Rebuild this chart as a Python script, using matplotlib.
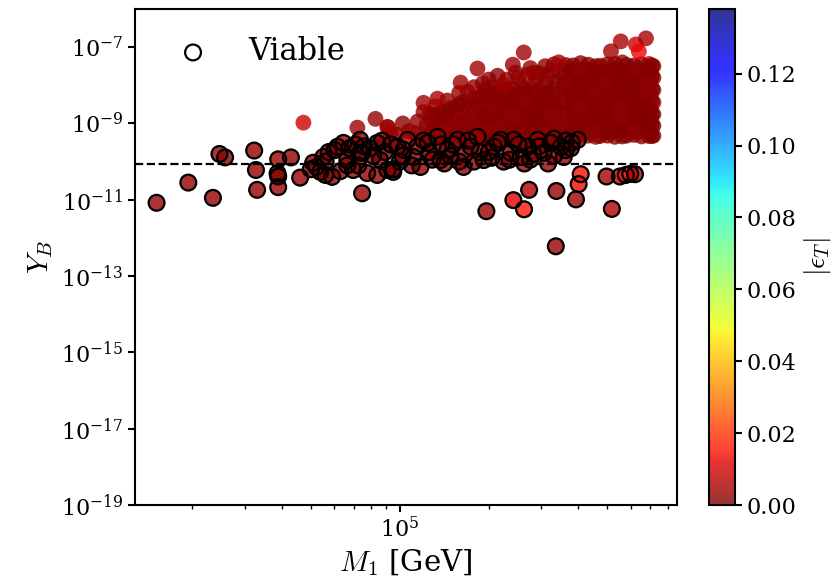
import matplotlib.pyplot as plt
import numpy as np
from matplotlib.ticker import NullLocator

plt.rcParams['font.family'] = 'DejaVu Serif'
plt.rcParams['mathtext.fontset'] = 'cm'

# values: log10(M1/GeV), log10(Y_B), |eps_T|
# non-viable points, dense right part of the cloud
cloud_log_m1 = np.array([
    5.56, 5.61, 5.66, 5.70, 5.75, 5.79, 5.84, 5.855,
    5.55, 5.60, 5.64, 5.69, 5.74, 5.78, 5.83, 5.855,
    5.56, 5.61, 5.65, 5.70, 5.74, 5.79, 5.83, 5.855,
    5.55, 5.60, 5.65, 5.69, 5.74, 5.78, 5.82, 5.855,
    5.56, 5.61, 5.65, 5.70, 5.75, 5.79, 5.83, 5.855,
    5.55, 5.60, 5.64, 5.69, 5.74, 5.78, 5.83, 5.855,
    5.56, 5.61, 5.66, 5.70, 5.75, 5.79, 5.84, 5.855,
    5.58, 5.63, 5.68, 5.72, 5.77, 5.81, 5.845,
    5.58, 5.63, 5.68, 5.72, 5.77, 5.81, 5.845,
    5.58, 5.63, 5.68, 5.72, 5.77, 5.81, 5.845,
    5.58, 5.63, 5.68, 5.72, 5.77, 5.81, 5.845,
    5.58, 5.63, 5.68, 5.72, 5.77, 5.81, 5.845,
    5.58, 5.63, 5.68, 5.72, 5.77, 5.81, 5.845,
    5.585, 5.635, 5.675, 5.725, 5.765, 5.815, 5.85,
    5.585, 5.635, 5.675, 5.725, 5.765, 5.815, 5.85,
    5.585, 5.635, 5.675, 5.725, 5.765, 5.815, 5.85,
    5.585, 5.635, 5.675, 5.725, 5.765, 5.815, 5.85,
    5.585, 5.635, 5.675, 5.725, 5.765, 5.815, 5.85,
    5.585, 5.635, 5.675, 5.725, 5.765, 5.815, 5.85,
    5.585, 5.635, 5.675, 5.725, 5.765, 5.815, 5.85,
    5.555, 5.605, 5.655, 5.700, 5.745, 5.790, 5.835,
    5.555, 5.605, 5.655, 5.700, 5.745, 5.790, 5.835,
    5.555, 5.605, 5.655, 5.700, 5.745, 5.790, 5.835,
    5.555, 5.605, 5.655, 5.700, 5.745, 5.790, 5.835,
    5.555, 5.605, 5.655, 5.700, 5.745, 5.790, 5.835,
    5.555, 5.605, 5.655, 5.700, 5.745, 5.790, 5.835,
])
cloud_log_yb = np.array([
    -7.47, -7.42, -7.50, -7.45, -7.40, -7.48, -7.44, -7.50,
    -7.78, -7.80, -7.75, -7.82, -7.77, -7.79, -7.76, -7.80,
    -8.10, -8.12, -8.08, -8.11, -8.13, -8.09, -8.10, -8.12,
    -8.43, -8.40, -8.45, -8.42, -8.44, -8.41, -8.43, -8.45,
    -8.75, -8.77, -8.73, -8.76, -8.74, -8.78, -8.75, -8.76,
    -9.05, -9.07, -9.03, -9.06, -9.04, -9.08, -9.05, -9.06,
    -9.33, -9.31, -9.35, -9.32, -9.34, -9.30, -9.33, -9.32,
    -7.62, -7.60, -7.64, -7.61, -7.63, -7.60, -7.62,
    -7.94, -7.96, -7.92, -7.95, -7.93, -7.97, -7.94,
    -8.27, -8.25, -8.28, -8.26, -8.29, -8.27, -8.25,
    -8.59, -8.61, -8.58, -8.60, -8.57, -8.59, -8.61,
    -8.90, -8.88, -8.92, -8.89, -8.91, -8.90, -8.88,
    -9.20, -9.22, -9.19, -9.21, -9.18, -9.20, -9.22,
    -7.48, -7.46, -7.49, -7.44, -7.47, -7.45, -7.48,
    -7.79, -7.77, -7.80, -7.78, -7.81, -7.79, -7.77,
    -8.11, -8.09, -8.12, -8.10, -8.08, -8.11, -8.10,
    -8.42, -8.44, -8.41, -8.43, -8.42, -8.44, -8.41,
    -8.74, -8.76, -8.75, -8.73, -8.76, -8.74, -8.75,
    -9.06, -9.04, -9.05, -9.07, -9.05, -9.06, -9.04,
    -9.34, -9.32, -9.33, -9.35, -9.32, -9.34, -9.33,
    -7.63, -7.61, -7.62, -7.64, -7.60, -7.62, -7.63,
    -7.95, -7.93, -7.96, -7.94, -7.95, -7.93, -7.96,
    -8.26, -8.28, -8.27, -8.25, -8.27, -8.28, -8.26,
    -8.60, -8.58, -8.59, -8.61, -8.60, -8.58, -8.59,
    -8.91, -8.89, -8.90, -8.92, -8.89, -8.91, -8.90,
    -9.21, -9.19, -9.20, -9.22, -9.19, -9.21, -9.20,
])
cloud_eps = np.array([
    0.003, 0.002, 0.004, 0.002, 0.003, 0.001, 0.012, 0.003,
    0.002, 0.003, 0.001, 0.002, 0.004, 0.002, 0.003, 0.002,
    0.001, 0.002, 0.003, 0.002, 0.016, 0.001, 0.002, 0.003,
    0.002, 0.001, 0.003, 0.002, 0.001, 0.002, 0.001, 0.004,
    0.003, 0.002, 0.001, 0.002, 0.003, 0.002, 0.001, 0.002,
    0.002, 0.014, 0.002, 0.001, 0.003, 0.002, 0.002, 0.001,
    0.001, 0.002, 0.003, 0.002, 0.001, 0.002, 0.003, 0.002,
    0.001, 0.002, 0.001, 0.001, 0.002, 0.001, 0.002,
    0.002, 0.001, 0.001, 0.002, 0.001, 0.001, 0.002,
    0.001, 0.001, 0.002, 0.001, 0.001, 0.002, 0.001,
    0.001, 0.002, 0.001, 0.001, 0.002, 0.001, 0.001,
    0.002, 0.001, 0.001, 0.002, 0.001, 0.001, 0.002,
    0.001, 0.001, 0.002, 0.001, 0.002, 0.001, 0.001,
    0.001, 0.001, 0.002, 0.001, 0.001, 0.002, 0.001,
    0.001, 0.002, 0.001, 0.001, 0.001, 0.002, 0.001,
    0.002, 0.001, 0.001, 0.001, 0.002, 0.001, 0.001,
    0.001, 0.001, 0.002, 0.001, 0.001, 0.001, 0.002,
    0.001, 0.002, 0.001, 0.001, 0.002, 0.001, 0.001,
    0.002, 0.001, 0.001, 0.002, 0.001, 0.001, 0.001,
    0.001, 0.001, 0.002, 0.001, 0.001, 0.002, 0.001,
    0.001, 0.002, 0.001, 0.001, 0.001, 0.002, 0.001,
    0.002, 0.001, 0.001, 0.002, 0.001, 0.001, 0.002,
    0.001, 0.001, 0.002, 0.001, 0.001, 0.001, 0.002,
    0.001, 0.002, 0.001, 0.001, 0.002, 0.001, 0.001,
    0.002, 0.001, 0.001, 0.001, 0.002, 0.001, 0.001,
    0.001, 0.001, 0.002, 0.001, 0.001, 0.002, 0.001,
])

# non-viable points, middle / left part of the cloud and stragglers
mid_log_m1 = np.array([
    5.47, 5.51, 5.49, 5.53,
    5.31, 5.36, 5.41, 5.45,
    5.30, 5.34, 5.39, 5.44, 5.48, 5.52,
    5.31, 5.36, 5.41, 5.46, 5.51,
    5.30, 5.34, 5.39, 5.44, 5.48, 5.52,
    5.32, 5.37, 5.42, 5.47, 5.51,
    5.32, 5.37, 5.42, 5.46, 5.50,
    5.32, 5.37, 5.42, 5.46, 5.50,
    5.32, 5.37, 5.42, 5.46, 5.50,
    5.32, 5.37, 5.42, 5.46, 5.50,
    5.325, 5.375, 5.415, 5.465, 5.505,
    5.325, 5.375, 5.415, 5.465, 5.505,
    5.325, 5.375, 5.415, 5.465, 5.505,
    5.300, 5.345, 5.395, 5.440, 5.485, 5.525,
    5.300, 5.345, 5.395, 5.440, 5.485, 5.525,
    5.300, 5.345, 5.395, 5.440, 5.485, 5.525,
    5.300, 5.345, 5.395, 5.440, 5.485, 5.525,
    5.290, 5.335, 5.380, 5.425, 5.470, 5.515,
    5.290, 5.335, 5.380, 5.425, 5.470, 5.515,
    5.290, 5.335, 5.380, 5.425, 5.470, 5.515,
    5.290, 5.335, 5.380, 5.425, 5.470, 5.515,
    5.290, 5.335, 5.380, 5.425, 5.470, 5.515,
    5.30, 5.33, 5.36, 5.40, 5.43, 5.46, 5.44, 5.49, 5.52, 5.50,
    5.25, 5.28, 5.20, 5.16, 5.12, 5.08,
    5.11, 5.11, 5.11, 5.15, 5.15, 5.15, 5.19, 5.19, 5.19,
    5.23, 5.23, 5.23, 5.23, 5.27, 5.27, 5.27, 5.27,
    5.13, 5.13, 5.17, 5.17, 5.21, 5.21, 5.21, 5.25, 5.25, 5.25, 5.29, 5.29,
    5.12, 5.14, 5.16, 5.18, 5.20, 5.22, 5.24, 5.26, 5.28, 5.28, 5.30, 5.30,
    5.11, 5.13, 5.15, 5.17, 5.19, 5.21, 5.23, 5.25, 5.27, 5.29, 5.29,
    5.03, 5.06, 5.08, 4.99, 4.96, 5.01, 5.05, 5.09, 4.97, 5.10,
    4.675, 4.857, 4.918, 4.958, 5.080, 5.127, 5.205, 5.229, 5.262,
    5.381, 5.418, 5.391, 5.350, 5.451, 5.536, 5.745, 5.796, 5.830,
    5.806, 5.712,
])
mid_log_yb = np.array([
    -7.68, -7.62, -7.95, -7.90,
    -8.05, -8.10, -8.02, -8.08,
    -8.40, -8.42, -8.38, -8.41, -8.36, -8.39,
    -8.75, -8.72, -8.77, -8.74, -8.73,
    -9.10, -9.08, -9.12, -9.09, -9.11, -9.07,
    -9.40, -9.38, -9.42, -9.39, -9.41,
    -8.22, -8.24, -8.21, -8.23, -8.20,
    -8.57, -8.55, -8.58, -8.56, -8.57,
    -8.92, -8.90, -8.93, -8.91, -8.92,
    -9.25, -9.23, -9.26, -9.24, -9.25,
    -8.41, -8.39, -8.42, -8.40, -8.38,
    -8.74, -8.76, -8.73, -8.75, -8.74,
    -9.09, -9.11, -9.08, -9.10, -9.09,
    -8.23, -8.21, -8.24, -8.22, -8.20, -8.23,
    -8.56, -8.58, -8.57, -8.55, -8.57, -8.56,
    -8.91, -8.93, -8.90, -8.92, -8.91, -8.93,
    -9.24, -9.26, -9.25, -9.23, -9.24, -9.26,
    -8.10, -8.12, -8.09, -8.11, -8.10, -8.08,
    -8.45, -8.44, -8.46, -8.45, -8.43, -8.46,
    -8.80, -8.82, -8.79, -8.81, -8.80, -8.78,
    -9.15, -9.14, -9.16, -9.15, -9.13, -9.16,
    -9.45, -9.44, -9.46, -9.45, -9.43, -9.46,
    -7.85, -7.75, -7.85, -7.80, -7.72, -7.85, -7.55, -7.50, -7.45, -7.75,
    -8.05, -7.95, -8.20, -8.40, -8.55, -8.70,
    -8.80, -9.15, -9.40, -8.70, -9.05, -9.35, -8.60, -8.95, -9.30,
    -8.45, -8.80, -9.15, -9.40, -8.30, -8.65, -9.00, -9.30,
    -8.97, -9.27, -8.85, -9.20, -8.70, -9.05, -9.35, -8.60, -8.95, -9.25, -8.20, -8.55,
    -8.95, -9.20, -8.80, -9.10, -8.50, -8.90, -9.30, -8.50, -8.85, -9.15, -8.30, -8.60,
    -9.00, -8.75, -9.35, -8.60, -9.20, -8.45, -9.00, -8.35, -9.15, -8.80, -9.40,
    -9.20, -8.95, -9.30, -9.30, -9.10, -9.00, -9.25, -9.05, -9.25, -8.75,
    -8.98, -9.11, -8.88, -9.09, -8.46, -8.35, -7.93, -8.17, -7.56,
    -7.46, -7.14, -7.67, -7.98, -7.67, -7.40, -6.85, -6.93, -6.77,
    -7.11, -7.11,
])
mid_eps = np.array([
    0.003, 0.002, 0.002, 0.001,
    0.003, 0.002, 0.001, 0.002,
    0.002, 0.001, 0.002, 0.003, 0.002, 0.001,
    0.001, 0.002, 0.001, 0.002, 0.002,
    0.002, 0.001, 0.002, 0.001, 0.002, 0.003,
    0.001, 0.002, 0.002, 0.001, 0.002,
    0.001, 0.002, 0.001, 0.001, 0.002,
    0.002, 0.001, 0.001, 0.002, 0.001,
    0.001, 0.001, 0.002, 0.001, 0.001,
    0.001, 0.002, 0.001, 0.001, 0.002,
    0.001, 0.001, 0.002, 0.001, 0.001,
    0.002, 0.001, 0.001, 0.001, 0.002,
    0.001, 0.002, 0.001, 0.001, 0.001,
    0.001, 0.001, 0.002, 0.001, 0.001, 0.002,
    0.002, 0.001, 0.001, 0.002, 0.001, 0.001,
    0.001, 0.001, 0.002, 0.001, 0.001, 0.001,
    0.001, 0.002, 0.001, 0.001, 0.002, 0.001,
    0.001, 0.002, 0.001, 0.001, 0.002, 0.001,
    0.002, 0.001, 0.001, 0.002, 0.001, 0.001,
    0.001, 0.001, 0.002, 0.001, 0.001, 0.002,
    0.001, 0.002, 0.001, 0.001, 0.001, 0.002,
    0.002, 0.001, 0.002, 0.001, 0.001, 0.001,
    0.003, 0.002, 0.003, 0.002, 0.003, 0.002, 0.003, 0.002, 0.003, 0.002,
    0.003, 0.002, 0.003, 0.002, 0.003, 0.004,
    0.003, 0.002, 0.001, 0.003, 0.002, 0.002, 0.004, 0.001, 0.002,
    0.003, 0.002, 0.001, 0.002, 0.004, 0.002, 0.001, 0.002,
    0.002, 0.001, 0.002, 0.001, 0.002, 0.001, 0.002, 0.001, 0.002, 0.001, 0.002, 0.001,
    0.001, 0.002, 0.001, 0.002, 0.001, 0.002, 0.001, 0.002, 0.001, 0.002, 0.001, 0.002,
    0.002, 0.001, 0.002, 0.001, 0.002, 0.001, 0.002, 0.001, 0.002, 0.001, 0.002,
    0.003, 0.003, 0.002, 0.004, 0.003, 0.002, 0.003, 0.002, 0.003, 0.002,
    0.010, 0.004, 0.003, 0.004, 0.004, 0.005, 0.004, 0.003, 0.004,
    0.003, 0.004, 0.003, 0.004, 0.003, 0.004, 0.005, 0.009, 0.005,
    0.013, 0.004,
])

# viable points (black ring)
viable_log_m1 = np.array([
    4.180, 4.287, 4.370, 4.392, 4.411, 4.509, 4.515, 4.519, 4.590, 4.588,
    4.590, 4.590, 4.633, 4.664, 4.873,
    4.708, 4.732, 4.742, 4.772, 4.790, 4.810, 4.823, 4.843, 4.866, 4.873,
    4.890, 4.924, 4.934, 4.958, 4.978, 4.992, 5.026, 5.046, 5.070, 5.094,
    5.127, 5.137, 5.161, 5.195, 5.215, 5.239, 5.262, 5.283, 5.317, 5.340,
    5.374, 5.384, 5.408, 5.431, 5.465, 5.485, 5.509, 5.543, 5.553, 5.577,
    5.600, 4.719, 4.749, 4.823, 4.866, 4.924, 4.978, 5.013, 4.700, 4.760,
    4.850, 4.900, 4.950, 5.000, 5.060, 5.100, 5.150, 5.180, 5.220, 5.250,
    5.300, 5.350, 5.420, 5.450, 5.500, 5.520, 5.560,
    4.75, 4.78, 4.80, 4.83, 4.86, 4.88, 4.91, 4.94, 4.97, 5.01,
    5.04, 5.08, 5.11, 5.14, 5.17, 5.20, 5.23, 5.27, 5.31, 5.33,
    5.37, 5.40, 5.44, 5.47, 5.52, 5.56, 5.58,
    5.292, 5.383, 5.419, 5.436, 5.528, 5.526, 5.594, 5.603, 5.610, 5.697,
    5.715, 5.742, 5.762, 5.777, 5.793,
])
viable_log_yb = np.array([
    -11.08, -10.55, -10.95, -9.80, -9.89, -9.71, -10.22, -10.74, -9.94, -10.31,
    -10.39, -10.67, -9.89, -10.42, -10.83,
    -10.03, -10.27, -9.88, -10.40, -9.61, -9.51, -9.96, -10.22, -9.43, -9.77,
    -10.30, -9.51, -9.96, -10.22, -10.27, -9.61, -9.43, -9.88, -10.14, -9.51,
    -9.35, -9.96, -9.69, -9.43, -10.14, -9.61, -9.35, -9.96, -9.61, -9.43,
    -9.77, -9.43, -9.88, -9.61, -9.43, -9.77, -9.51, -9.61, -9.88, -9.65,
    -9.43, -10.14, -10.35, -10.10, -9.77, -10.35, -10.20, -9.69, -10.20, -9.75,
    -9.55, -9.65, -9.75, -10.00, -9.60, -9.75, -10.05, -9.55, -9.80, -10.00,
    -9.75, -10.00, -10.05, -9.80, -10.05, -9.40, -9.45,
    -10.00, -9.70, -10.25, -9.65, -10.10, -9.60, -9.85, -9.45, -9.55, -9.85,
    -10.10, -9.45, -9.95, -9.55, -9.85, -10.00, -9.45, -9.75, -9.90, -9.50,
    -9.95, -9.55, -9.95, -9.60, -9.85, -9.70, -9.50,
    -11.30, -11.01, -11.25, -10.74, -10.77, -12.22, -10.99, -10.59, -10.33, -10.39,
    -11.24, -10.39, -10.35, -10.32, -10.33,
])
viable_eps = np.array([
    0.003, 0.003, 0.003, 0.003, 0.002, 0.003, 0.003, 0.003, 0.003, 0.003,
    0.001, 0.003, 0.003, 0.003, 0.003,
    0.003, 0.002, 0.003, 0.003, 0.002, 0.003, 0.002, 0.003, 0.002, 0.003,
    0.003, 0.002, 0.003, 0.002, 0.003, 0.002, 0.003, 0.002, 0.003, 0.002,
    0.003, 0.002, 0.003, 0.002, 0.003, 0.002, 0.003, 0.002, 0.003, 0.002,
    0.003, 0.002, 0.003, 0.002, 0.003, 0.002, 0.003, 0.002, 0.003, 0.002,
    0.003, 0.003, 0.002, 0.003, 0.002, 0.003, 0.002, 0.003, 0.003, 0.002,
    0.003, 0.002, 0.003, 0.002, 0.003, 0.002, 0.003, 0.002, 0.003, 0.002,
    0.003, 0.002, 0.003, 0.002, 0.003, 0.002, 0.003,
    0.002, 0.003, 0.002, 0.001, 0.003, 0.002, 0.001, 0.002, 0.003, 0.002,
    0.001, 0.002, 0.003, 0.002, 0.001, 0.002, 0.003, 0.002, 0.001, 0.002,
    0.003, 0.002, 0.001, 0.002, 0.003, 0.002, 0.001,
    0.004, 0.012, 0.016, 0.006, 0.003, 0.003, 0.004, 0.014, 0.015, 0.005,
    0.007, 0.011, 0.015, 0.018, 0.008,
])

yb_obs = 8.7e-11

m1_all = 10 ** np.concatenate([cloud_log_m1, mid_log_m1, viable_log_m1])
yb_all = 10 ** np.concatenate([cloud_log_yb, mid_log_yb, viable_log_yb])
eps_all = np.concatenate([cloud_eps, mid_eps, viable_eps])

fig = plt.figure(figsize=(8.4, 5.79), dpi=100)
ax = fig.add_axes([0.1607, 0.1278, 0.6452, 0.8567])
cax = fig.add_axes([0.844, 0.1278, 0.031, 0.8567])

sc = ax.scatter(m1_all, yb_all, c=eps_all, cmap='jet_r', vmin=0, vmax=0.138,
                s=130, alpha=0.8, linewidths=0)
ax.scatter(10 ** viable_log_m1, 10 ** viable_log_yb, s=130, facecolors='none',
           edgecolors='k', linewidths=1.6, label='Viable')
ax.axhline(yb_obs, color='k', linestyle='--', linewidth=1.6)

ax.set_xscale('log')
ax.set_yscale('log')
ax.set_xlim(1.28e4, 8.6e5)
ax.set_ylim(1e-19, 1e-6)
ax.set_yticks([1e-19, 1e-17, 1e-15, 1e-13, 1e-11, 1e-9, 1e-7])
ax.yaxis.set_minor_locator(NullLocator())
ax.tick_params(labelsize=16, width=1.5, length=5)
ax.tick_params(which='minor', width=1.0, length=3)
for sp in ax.spines.values():
    sp.set_linewidth(1.5)

ax.set_xlabel(r'$M_1$ [GeV]', fontsize=21)
ax.set_ylabel(r'$Y_B$', fontsize=21)
ax.legend(loc='upper left', frameon=False, fontsize=22)

cb = fig.colorbar(sc, cax=cax)
cb.set_ticks([0, 0.02, 0.04, 0.06, 0.08, 0.10, 0.12])
cb.ax.yaxis.set_major_formatter('{x:.2f}')
cb.ax.tick_params(labelsize=16, width=1.5, length=5)
cb.outline.set_linewidth(1.5)
cb.set_label(r'$|\epsilon_T|$', fontsize=20)

fig.savefig('out.png', dpi=100)
